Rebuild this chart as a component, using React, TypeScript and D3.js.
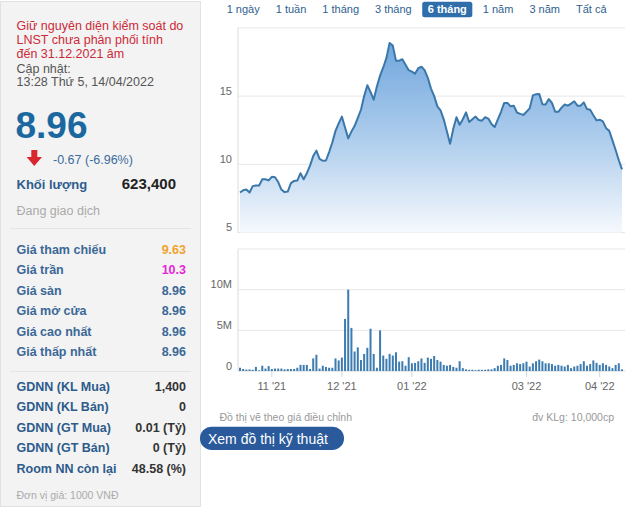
import React from 'react';
import * as d3 from 'd3';

// ---- data ----
const priceValues: number[] = [
  7.93, 8.1, 8.15, 7.93, 8.4, 8.45, 8.44, 8.9, 8.9, 8.82,
  9.08, 9.05, 8.7, 8.15, 7.96, 8.0, 8.62, 8.78, 8.81, 9.35,
  8.9, 9.35, 9.9, 10.6, 11.0, 10.4, 10.26, 10.28, 10.9, 11.6,
  12.45, 13.0, 13.5, 12.7, 11.9, 12.4, 12.8, 13.4, 14.0, 15.0,
  15.8, 15.3, 14.74, 15.7, 16.5, 17.1, 17.8, 18.9, 18.7, 17.6,
  17.6, 17.7, 17.3, 16.9, 16.8, 16.65, 17.05, 17.15, 16.9, 16.34,
  15.55, 15.0, 14.25, 13.95, 13.3, 12.4, 11.5, 12.6, 13.45, 12.9,
  13.3, 13.81, 13.1, 13.3, 13.5, 13.25, 13.2, 13.45, 13.35, 12.95,
  12.73, 13.3, 13.85, 14.5, 14.5, 14.25, 14.3, 13.8, 13.7, 13.62,
  13.85, 14.1, 15.05, 15.14, 15.16, 14.4, 14.38, 14.78, 14.5, 13.85,
  13.85, 14.15, 14.38, 14.3, 14.45, 14.62, 14.3, 14.3, 14.54, 14.05,
  14.0, 13.6, 13.22, 13.27, 13.15, 12.65, 12.45, 11.75, 11.05, 10.3,
  9.63,
];

// volume in millions of shares
const volumeValues: number[] = [
  0.4, 0.25, 0.17, 0.2, 0.15, 0.5, 0.08, 0.65, 0.3, 0.6,
  0.25, 0.3, 0.3, 0.3, 0.2, 0.25, 0.25, 0.25, 0.4, 0.75,
  0.75, 0.75, 0.25, 1.55, 2.0, 0.3, 0.65, 0.5, 0.4, 0.4,
  1.55, 1.3, 1.65, 6.4, 10.0, 5.3, 2.4, 2.9, 1.35, 2.1,
  2.85, 5.2, 2.1, 0.4, 5.0, 1.9, 1.5, 2.1, 1.9, 2.3,
  1.15, 1.2, 0.65, 1.7, 0.95, 1.0, 1.2, 1.55, 1.0, 1.65,
  1.5, 1.85, 1.35, 1.15, 0.75, 0.65, 0.75, 0.5, 0.4, 1.2,
  0.35, 0.2, 0.15, 0.15, 0.1, 0.15, 0.15, 0.15, 0.2, 0.2,
  0.35, 0.65, 0.75, 1.55, 1.35, 0.65, 0.75, 0.95, 0.85, 0.95,
  1.15, 0.55, 0.95, 1.2, 1.4, 1.2, 0.95, 0.95, 0.85, 0.65,
  0.75, 0.65, 0.55, 0.75, 0.35, 0.55, 0.65, 0.85, 1.2, 0.65,
  0.85, 1.3, 1.0, 0.75, 0.95, 0.75, 0.55, 0.35, 0.75, 0.95,
  0.2,
];

const monthTickIndex = [10, 32, 54, 90, 113];
const monthTickLabels = ["11 '21", "12 '21", "01 '22", "03 '22", "04 '22"];
const priceTicks = [5, 10, 15];
const volumeTicks = [0, 5, 10];
const volumeTickLabels = ['0', '5M', '10M'];

const periodButtons = ['1 ngày', '1 tuần', '1 tháng', '3 tháng', '6 tháng', '1 năm', '3 năm', 'Tất cả'];
const activePeriod = '6 tháng';

const noteLines = ['Giữ nguyên diện kiểm soát do', 'LNST chưa phân phối tính', 'đến 31.12.2021 âm'];
const updateLines = ['Cập nhật:', '13:28 Thứ 5, 14/04/2022'];
const lastPrice = '8.96';
const changeText = '-0.67 (-6.96%)';
const volumeLabel = 'Khối lượng';
const volumeText = '623,400';
const statusText = 'Đang giao dịch';

const priceRowLabels = ['Giá tham chiếu', 'Giá trần', 'Giá sàn', 'Giá mở cửa', 'Giá cao nhất', 'Giá thấp nhất'];
const priceRowValues = ['9.63', '10.3', '8.96', '8.96', '8.96', '8.96'];
const priceRowColors = ['#f0a22e', '#e626d6', '#3b6897', '#3b6897', '#3b6897', '#3b6897'];

const foreignRowLabels = ['GDNN (KL Mua)', 'GDNN (KL Bán)', 'GDNN (GT Mua)', 'GDNN (GT Bán)', 'Room NN còn lại'];
const foreignRowValues = ['1,400', '0', '0.01 (Tỷ)', '0 (Tỷ)', '48.58 (%)'];

const unitText = 'Đơn vị giá: 1000 VNĐ';
const adjustedNote = 'Đồ thị vẽ theo giá điều chỉnh';
const volumeUnitNote = 'đv KLg: 10,000cp';
const techButton = 'Xem đồ thị kỹ thuật';

const FONT = '"Liberation Sans", Arial, Helvetica, sans-serif';

let measureCtx: CanvasRenderingContext2D | null = null;
function measure(text: string, font: string): number {
  if (!measureCtx) measureCtx = document.createElement('canvas').getContext('2d');
  if (!measureCtx) return text.length * 6;
  measureCtx.font = font;
  return measureCtx.measureText(text).width;
}

export default function App() {
  const W = 630;
  const H = 507;
  const n = priceValues.length;
  const x = d3.scaleLinear().domain([0, n - 1]).range([240, 622]);
  const yP = d3.scaleLinear().domain([5, 20]).range([232.5, 27.9]);
  const yV = d3.scaleLinear().domain([0, 15]).range([371, 249]);
  const plotLeft = 238;
  const plotRight = 625;

  const line = d3.line<number>().x((_, i) => x(i)).y((d) => yP(d));
  const area = d3.area<number>().x((_, i) => x(i)).y0(yP(5)).y1((d) => yP(d));

  // period buttons layout
  const btnFont = `11px ${FONT}`;
  const btnActiveFont = `bold 11px ${FONT}`;
  let cursor = 226.7;
  const buttons = periodButtons.map((label) => {
    const active = label === activePeriod;
    const w = measure(label, active ? btnActiveFont : btnFont);
    const b = { label, active, x: cursor, w };
    cursor += w + 16;
    return b;
  });

  const rowStep = 20.5;

  return (
    <svg
      width={W}
      height={H}
      viewBox={`0 0 ${W} ${H}`}
      style={{ position: 'absolute', left: 0, top: 0, background: '#fff' }}
      fontFamily={FONT}
    >
      <defs>
        <linearGradient id="areaGrad" gradientUnits="userSpaceOnUse" x1="0" y1="40" x2="0" y2="233">
          <stop offset="0%" stopColor="#6ea5dc" />
          <stop offset="55%" stopColor="#b3d0ee" />
          <stop offset="100%" stopColor="#f6f9fd" />
        </linearGradient>
      </defs>

      {/* left info panel */}
      <rect x={0.5} y={1.5} width={200} height={505} fill="#f3f3f3" stroke="#e2e2e2" />
      {noteLines.map((t, i) => (
        <text key={t} x={16.5} y={29.5 + i * 14} fontSize={12.5} fill="#cc2a38">{t}</text>
      ))}
      {updateLines.map((t, i) => (
        <text key={t} x={16.5} y={72.5 + i * 13.8} fontSize={12.5} fill="#555">{t}</text>
      ))}
      <text x={15.5} y={138.3} fontSize={37} fontWeight="bold" fill="#1b679f">{lastPrice}</text>
      <path d="M31.3,150 L37.3,150 L37.3,157 L42,157 L34.3,166 L26.6,157 L31.3,157 Z" fill="#d9272e" />
      <text x={53} y={163.5} fontSize={12.5} fill="#3a6c9c">{changeText}</text>
      <text x={16.5} y={188.5} fontSize={13} fontWeight="bold" fill="#2e5d8e">{volumeLabel}</text>
      <text x={176} y={189} fontSize={15} fontWeight="bold" fill="#222" textAnchor="end">{volumeText}</text>
      <text x={16.5} y={214.5} fontSize={12.5} fill="#aaa">{statusText}</text>
      <line x1={10} x2={191} y1={228.5} y2={228.5} stroke="#e4e4e4" />

      {priceRowLabels.map((t, i) => (
        <g key={t}>
          <text x={16.5} y={253.5 + i * rowStep} fontSize={12.5} fontWeight="bold" fill="#3b6897">{t}</text>
          <text x={186} y={253.5 + i * rowStep} fontSize={12.5} fontWeight="bold" fill={priceRowColors[i]} textAnchor="end">
            {priceRowValues[i]}
          </text>
        </g>
      ))}
      <line x1={10} x2={191} y1={371.5} y2={371.5} stroke="#e4e4e4" />
      {foreignRowLabels.map((t, i) => (
        <g key={t}>
          <text x={16.5} y={390.5 + i * rowStep} fontSize={12.5} fontWeight="bold" fill="#2d5b8c">{t}</text>
          <text x={186} y={390.5 + i * rowStep} fontSize={12.5} fontWeight="bold" fill="#333" textAnchor="end">
            {foreignRowValues[i]}
          </text>
        </g>
      ))}
      <text x={16.5} y={499} fontSize={10.5} fill="#aaa">{unitText}</text>

      {/* period buttons */}
      {buttons.map((b) => (
        <g key={b.label}>
          {b.active && (
            <rect x={b.x - 5.5} y={1.7} width={b.w + 11} height={15.6} rx={2.5} fill="#2f6eab" />
          )}
          <text
            x={b.x}
            y={13}
            fontSize={11}
            fontWeight={b.active ? 'bold' : 'normal'}
            fill={b.active ? '#fff' : '#2f5f8f'}
          >
            {b.label}
          </text>
        </g>
      ))}

      {/* price chart */}
      <line x1={plotLeft} x2={plotRight} y1={yP(20)} y2={yP(20)} stroke="#e6e6e6" />
      {priceTicks.map((t) => (
        <g key={t}>
          <line x1={plotLeft} x2={plotRight} y1={yP(t)} y2={yP(t)} stroke="#e6e6e6" />
          <text x={232} y={yP(t) - 1.5} fontSize={11} fill="#666" textAnchor="end">{t}</text>
        </g>
      ))}
      <line x1={plotLeft} x2={plotLeft} y1={yP(20)} y2={yP(5)} stroke="#dcdcdc" />
      <path d={area(priceValues) ?? ''} fill="url(#areaGrad)" />
      <path d={line(priceValues) ?? ''} fill="none" stroke="#3a78ab" strokeWidth={2} strokeLinejoin="round" />

      {/* volume chart */}
      <line x1={plotLeft} x2={plotRight} y1={yV(15)} y2={yV(15)} stroke="#e6e6e6" />
      {volumeTicks.map((t, i) => (
        <g key={t}>
          <line x1={plotLeft} x2={plotRight} y1={yV(t)} y2={yV(t)} stroke={t === 0 ? '#d8d8d8' : '#e6e6e6'} />
          <text x={232} y={yV(t) - 1.5} fontSize={11} fill="#666" textAnchor="end">{volumeTickLabels[i]}</text>
        </g>
      ))}
      <line x1={plotLeft} x2={plotLeft} y1={yV(15)} y2={yV(0)} stroke="#dcdcdc" />
      {volumeValues.map((v, i) => (
        <rect key={i} x={x(i) - 1} y={yV(v)} width={2} height={Math.max(0, yV(0) - yV(v))} fill="#3d7cb0" />
      ))}
      {monthTickIndex.map((idx, i) => (
        <g key={idx}>
          <line x1={x(idx)} x2={x(idx)} y1={371} y2={377} stroke="#ccd6e0" />
          <text x={x(idx)} y={390} fontSize={11} fill="#666" textAnchor="middle">{monthTickLabels[i]}</text>
        </g>
      ))}

      {/* notes */}
      <text x={219.5} y={421} fontSize={10.5} fill="#999">{adjustedNote}</text>
      <text x={614} y={421} fontSize={10.5} fill="#999" textAnchor="end">{volumeUnitNote}</text>

      {/* technical chart button */}
      <rect x={200} y={426.7} width={144} height={23.3} rx={11.6} fill="#2a5a9b" />
      <text x={208} y={443.5} fontSize={14} fill="#fff">{techButton}</text>
    </svg>
  );
}
